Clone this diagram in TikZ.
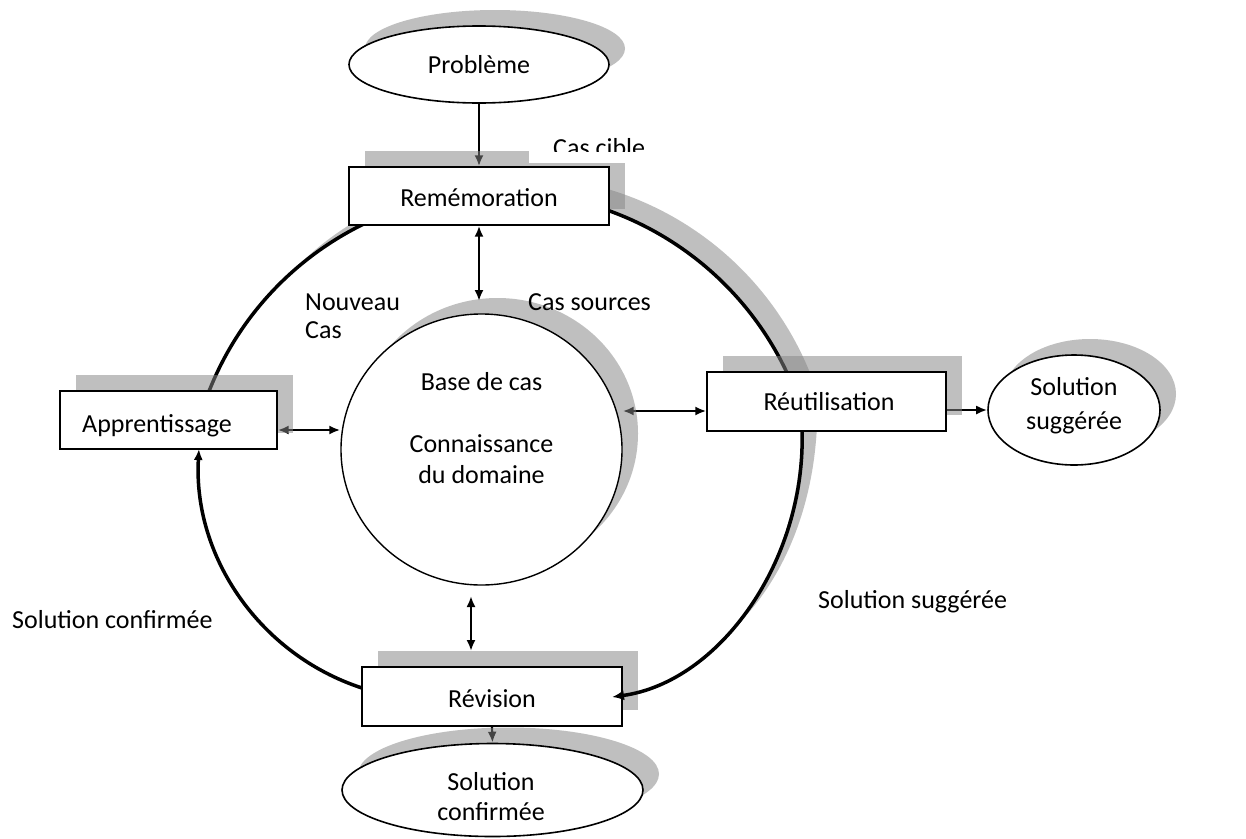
\documentclass[tikz,border=0pt]{standalone}
\usepackage{fontspec}
\setmainfont{Carlito}
\usetikzlibrary{shapes.geometric,arrows.meta,shadows,calc}
\definecolor{shd}{RGB}{134,134,134}
\pgfdeclarelayer{arcs}
\pgfdeclarelayer{arrs}
\pgfdeclarelayer{top}
\pgfsetlayers{arcs,arrs,main,top}
\begin{document}
\begin{tikzpicture}[x=1pt,y=-1pt,
  font=\fontsize{26}{31}\selectfont,
  shad/.style={drop shadow={shadow xshift=16pt,shadow yshift=16pt,fill=shd,opacity=0.52}},
  box/.style={rectangle,draw,line width=1.4pt,fill=white,inner sep=0pt,shad},
  oval/.style={ellipse,draw,line width=1.6pt,fill=white,inner sep=0pt,shad},
  lbl/.style={inner sep=0pt,anchor=base},
  conn/.style={line width=2.2pt},
  tipp/.style={-{Latex[length=11pt,width=9pt]}},
  both/.style={{Latex[length=11pt,width=9pt]}-{Latex[length=11pt,width=9pt]}},
  ring/.style={line width=3.5pt},
  bandshd/.style={fill=shd,opacity=0.52},
]
\useasboundingbox (0,0) rectangle (1246,838);

% ---------- shapes ----------
\node[oval,minimum width=260pt,minimum height=77pt] (P) at (479,64.5) {};
\node[lbl] (Pt) at (479,73) {Problème};

\node[box,minimum width=260pt,minimum height=58pt] (R) at (479,196) {};
\node[lbl] (Rt) at (479,206) {Remémoration};

\fill[white] (529,118) rectangle (668,163);
\begin{scope}
  \clip (500,100) rectangle (700,151);
  \node[lbl,anchor=base west] (cc) at (553,156) {Cas cible};
\end{scope}

\node[box,minimum width=217pt,minimum height=58pt] (A) at (168.5,420) {};
\node[lbl,anchor=base west] (At) at (82,432) {Apprentissage};

\node[oval,line width=1.4pt,minimum width=281pt,minimum height=271pt] (C) at (481.5,449.5) {};
\node[lbl] (C1) at (481.5,390) {Base de cas};
\node[lbl] (C2) at (481.5,452) {Connaissance};
\node[lbl] (C3) at (481.5,483) {du domaine};

\node[box,minimum width=239pt,minimum height=59pt] (U) at (826.5,401.5) {};
\node[lbl] (Ut) at (829,410) {Réutilisation};

\node[oval,minimum width=172pt,minimum height=110pt] (S) at (1074,410) {};
\node[lbl] (S1) at (1074,395) {Solution};
\node[lbl] (S2) at (1074,429) {suggérée};

\node[box,minimum width=260pt,minimum height=59pt] (V) at (492,696.5) {};
\node[lbl] (Vt) at (492,707) {Révision};

\node[oval,minimum width=301pt,minimum height=93pt] (SC) at (492.5,790) {};
\node[lbl] (SC1) at (491,790) {Solution};
\node[lbl] (SC2) at (491,820) {confirmée};

% ---------- free labels ----------
\node[lbl,anchor=base west] (nv1) at (305,310) {Nouveau};
\node[lbl,anchor=base west] (nv2) at (305,338) {Cas};
\node[lbl,anchor=base west] (cs) at (528,310) {Cas sources};
\node[lbl,anchor=base west] (ss) at (818,608) {Solution suggérée};
\node[lbl,anchor=base west] (sc) at (12,628) {Solution confirmée};

% ---------- ring arcs ----------
\coordinate (O1) at (502,507);
\coordinate (a2s) at (802,431);
\coordinate (a2e) at (612,697);
\coordinate (a3s) at (362,688);
\begin{pgfonlayer}{arcs}
  \fill[white] (0,0) rectangle (1246,838);
  % top arc: Apprentissage -> Remémoration -> Réutilisation
  \fill[bandshd] ($(O1)+(16,-16)+(-162:315)$) arc[start angle=-162,end angle=-17,radius=315] -- cycle;
  \fill[white] ($(O1)+(-162:315)$) arc[start angle=-162,end angle=-17,radius=315] -- cycle;
  \draw[ring] ($(O1)+(-162:315)$) arc[start angle=-162,end angle=-17,radius=315];
  % right arc shadow band: Réutilisation -> Révision
  \fill[bandshd] (817,389) .. controls (824,549) and (738,666) .. (628,681) -- cycle;
  \fill[white] (801,405) .. controls (808,565) and (722,682) .. (612,697) -- cycle;
  % bottom-left arc: Révision -> Apprentissage
  \draw[ring,-{Latex[length=11pt,width=9pt]}] (a3s) arc[start angle=108.1,end angle=183.3,radius=237.1];
\end{pgfonlayer}
\begin{pgfonlayer}{top}
  \draw[ring,-{Latex[length=12pt,width=10pt]}] (a2s) .. controls (806,560) and (720,682) .. (a2e);
\end{pgfonlayer}

% ---------- arrows ----------
\coordinate (c1) at (479,301);
\coordinate (c2) at (471,596);
\coordinate (c3) at (471,651);
\begin{pgfonlayer}{arrs}
  \draw[conn,tipp] (P.south) -- (R.north);
  \draw[conn,both] (R.south) -- (c1);
  \draw[conn,both] ([yshift=-10pt]A.east) -- ([yshift=-10pt]A.east -| C.west);
  \draw[conn,both] ([yshift=-9.5pt]U.west -| C.east) -- ([yshift=-9.5pt]U.west);
  \draw[conn,tipp] (U.east |- S.west) -- (S.west);
  \draw[conn,both] (c2) -- (c3);
  \draw[conn,tipp] (V.south) -- (SC.north);
\end{pgfonlayer}
\end{tikzpicture}
\end{document}
